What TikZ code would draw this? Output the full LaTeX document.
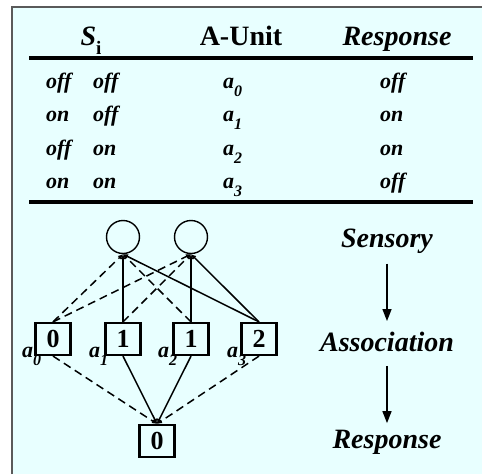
\documentclass[tikz,border=0pt]{standalone}
\usepackage{fontspec}
\setmainfont{Liberation Serif}
\usetikzlibrary{arrows.meta}
\definecolor{panelbg}{RGB}{232,255,255}
\definecolor{framegray}{RGB}{90,90,90}
\newcommand{\asub}[1]{\textit{a}\raisebox{-8pt}{\fontsize{16}{16}\selectfont #1}}
\begin{document}
\begin{tikzpicture}[x=1pt, y=-1pt,
    head/.style={font=\bfseries\fontsize{28}{32}\selectfont, anchor=base},
    stage/.style={font=\bfseries\itshape\fontsize{28}{32}\selectfont, anchor=base},
    cell/.style={font=\bfseries\itshape\fontsize{22}{24}\selectfont, anchor=base west, inner sep=0pt},
    sensor/.style={draw, circle, minimum size=33pt, inner sep=0pt, line width=1.4pt},
    unit/.style={draw, minimum width=35pt, minimum height=32pt, inner sep=0pt, line width=2.2pt, font=\bfseries\fontsize{26}{28}\selectfont},
    link/.style={line width=1.5pt, -{Latex[length=5pt,width=5pt]}},
    weak/.style={link, dash pattern=on 8pt off 5pt},
    flow/.style={line width=1.5pt, -{Triangle[length=12pt,width=9pt]}},
    rule/.style={line width=4pt}
]
    \useasboundingbox (0,0) rectangle (482,474);
    % Panel
    \fill[panelbg] (12,7) rectangle (482,474);
    \draw[framegray, line width=2pt] (12,474) -- (12,7) -- (482,7);

    % Table head
    \node[head] (hs) at (91,45) {\textit{S}\raisebox{-9pt}{\fontsize{19}{19}\selectfont i}};
    \node[head] (hunit) at (241,45) {A-Unit};
    \node[head] (hresp) at (397,45) {\textit{Response}};
    \draw[rule] (29,58) -- (473,58);

    % Table rows
    \node[cell] (r1a) at (46,88) {off};
    \node[cell] (r1b) at (93,88) {off};
    \node[cell] (r1u) at (223,88) {\asub{0}};
    \node[cell] (r1r) at (380,88) {off};
    \node[cell] (r2a) at (46,121) {on};
    \node[cell] (r2b) at (93,121) {off};
    \node[cell] (r2u) at (223,121) {\asub{1}};
    \node[cell] (r2r) at (380,121) {on};
    \node[cell] (r3a) at (46,155) {off};
    \node[cell] (r3b) at (93,155) {on};
    \node[cell] (r3u) at (223,155) {\asub{2}};
    \node[cell] (r3r) at (380,155) {on};
    \node[cell] (r4a) at (46,188) {on};
    \node[cell] (r4b) at (93,188) {on};
    \node[cell] (r4u) at (223,188) {\asub{3}};
    \node[cell] (r4r) at (380,188) {off};
    \draw[rule] (29,202) -- (473,202);

    % Network
    \node[sensor] (sA) at (123,237) {};
    \node[sensor] (sB) at (191,237) {};
    \node[unit] (u0) at (53,339) {0};
    \node[unit] (u1) at (123,339) {1};
    \node[unit] (u2) at (191,339) {1};
    \node[unit] (u3) at (259,339) {2};
    \node[unit] (out) at (157,441) {0};
    \node[cell] (l0) at (22,357) {\asub{0}};
    \node[cell] (l1) at (89,357) {\asub{1}};
    \node[cell] (l2) at (158,357) {\asub{2}};
    \node[cell] (l3) at (227,357) {\asub{3}};

    \draw[weak] (u0.north) -- (sA.south);
    \draw[weak] (u0.north) -- (sB.south);
    \draw[link] (u1.north) -- (sA.south);
    \draw[weak] (u1.north) -- (sB.south);
    \draw[weak] (u2.north) -- (sA.south);
    \draw[link] (u2.north) -- (sB.south);
    \draw[link] (u3.north) -- (sA.south);
    \draw[link] (u3.north) -- (sB.south);

    \draw[weak] (u0.south) -- (out.north);
    \draw[link] (u1.south) -- (out.north);
    \draw[link] (u2.south) -- (out.north);
    \draw[weak] (u3.south) -- (out.north);

    % Layers
    \node[stage] (sens) at (387,247) {Sensory};
    \node[stage] (assoc) at (387,351) {Association};
    \node[stage] (resp) at (387,448) {Response};
    \draw[flow, shorten <=7pt, shorten >=7pt] (sens) -- (assoc);
    \draw[flow, shorten <=11pt, shorten >=3pt] (assoc) -- (resp);
\end{tikzpicture}
\end{document}
